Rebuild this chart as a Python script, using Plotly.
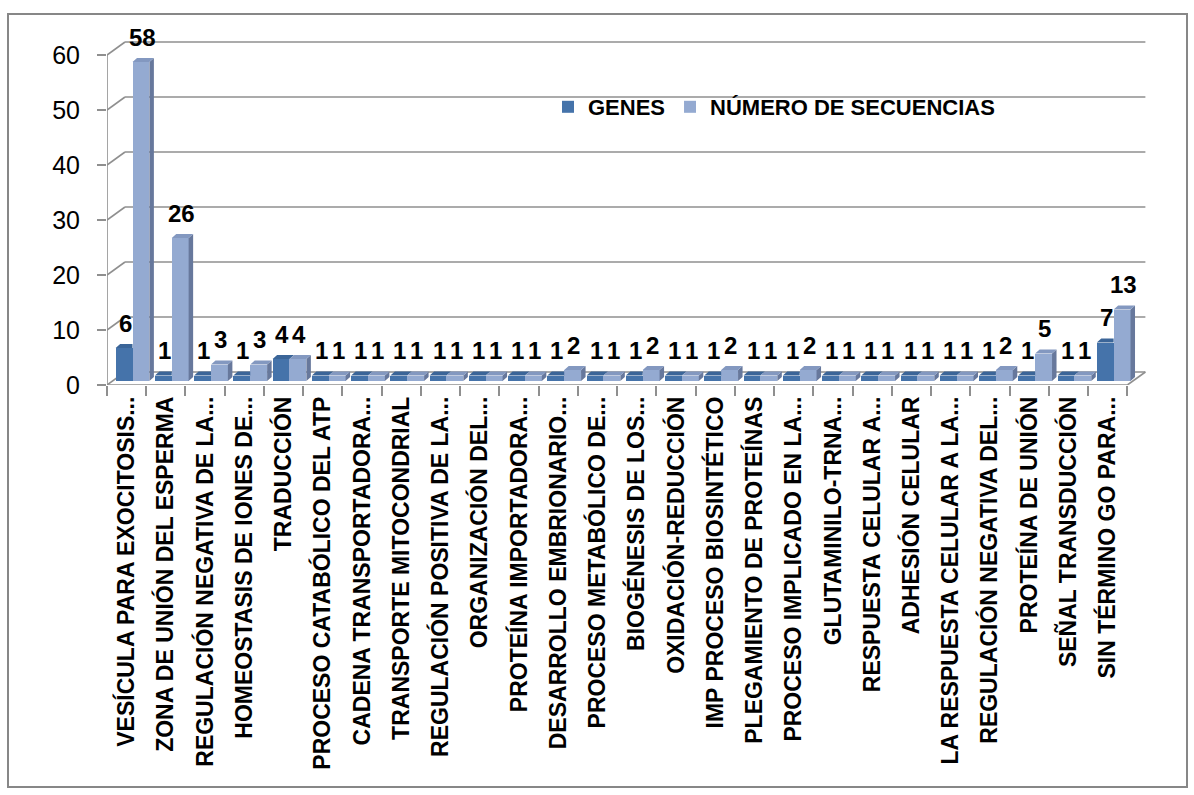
import plotly.graph_objects as go

# ---- data -------------------------------------------------------------
categories = [
    "VESÍCULA PARA EXOCITOSIS...",
    "ZONA DE UNIÓN DEL ESPERMA",
    "REGULACIÓN NEGATIVA DE LA...",
    "HOMEOSTASIS DE IONES DE...",
    "TRADUCCIÓN",
    "PROCESO CATABÓLICO DEL ATP",
    "CADENA TRANSPORTADORA...",
    "TRANSPORTE MITOCONDRIAL",
    "REGULACIÓN POSITIVA DE LA...",
    "ORGANIZACIÓN DEL...",
    "PROTEÍNA IMPORTADORA...",
    "DESARROLLO EMBRIONARIO...",
    "PROCESO METABÓLICO DE...",
    "BIOGÉNESIS DE LOS...",
    "OXIDACIÓN-REDUCCIÓN",
    "IMP PROCESO BIOSINTÉTICO",
    "PLEGAMIENTO DE PROTEÍNAS",
    "PROCESO IMPLICADO EN LA...",
    "GLUTAMINILO-TRNA...",
    "RESPUESTA CELULAR A...",
    "ADHESIÓN CELULAR",
    "LA RESPUESTA CELULAR A LA...",
    "REGULACIÓN NEGATIVA DEL...",
    "PROTEÍNA DE UNIÓN",
    "SEÑAL TRANSDUCCIÓN",
    "SIN TÉRMINO GO PARA...",
]
genes = [6, 1, 1, 1, 4, 1, 1, 1, 1, 1, 1, 1, 1, 1, 1, 1, 1, 1, 1, 1, 1, 1, 1, 1, 1, 7]
secuencias = [58, 26, 3, 3, 4, 1, 1, 1, 1, 1, 1, 2, 1, 2, 1, 2, 1, 2, 1, 1, 1, 1, 2, 5, 1, 13]
y_ticks = [0, 10, 20, 30, 40, 50, 60]

# ---- geometry of the pseudo-3D box (in axis units) ----------------------
W_PX, H_PX = 1194, 795
L_M, R_M, T_M, B_M = 107, 47, 22, 410
X_MAX, Y_MAX = 26.5, 66
px_x = (W_PX - L_M - R_M) / X_MAX          # pixels per category
px_y = (H_PX - T_M - B_M) / Y_MAX          # pixels per unit of value

WALL_DX, WALL_DY = 18 / px_x, 13 / px_y    # offset of the back wall
BAR_BASE = 4 / px_y                        # bars stand slightly behind the front edge
BAR_W = 0.43
DARK_LEFT = 0.22
FACE_DX, FACE_DY = 4.5 / px_x, 4 / px_y    # depth of each bar

GRID = "#8F8F8F"
DARK = dict(front="#4573AA", top="#3B6598", side="#2F507A")
LIGHT = dict(front="#94AAD1", top="#8398C0", side="#67789C")
FONT = "Liberation Sans, Arial, sans-serif"

n = len(categories)
idx = list(range(n))
dark_left = [i + DARK_LEFT for i in idx]
light_left = [i + DARK_LEFT + BAR_W for i in idx]

fig = go.Figure()

# front faces of the bars
fig.add_trace(go.Bar(
    x=[x + BAR_W / 2 for x in dark_left], y=genes, base=BAR_BASE, width=BAR_W,
    name="GENES", marker=dict(color=DARK["front"], line=dict(width=0)),
    customdata=categories, hovertemplate="%{customdata}<br>GENES: %{y}<extra></extra>",
))
fig.add_trace(go.Bar(
    x=[x + BAR_W / 2 for x in light_left], y=secuencias, base=BAR_BASE, width=BAR_W,
    name="NÚMERO DE SECUENCIAS", marker=dict(color=LIGHT["front"], line=dict(width=0)),
    customdata=categories,
    hovertemplate="%{customdata}<br>NÚMERO DE SECUENCIAS: %{y}<extra></extra>",
))


def poly_trace(xs, ys, color):
    return go.Scatter(x=xs, y=ys, mode="lines", fill="toself", fillcolor=color,
                      line=dict(width=0, color=color), hoverinfo="skip",
                      showlegend=False)


# top / side faces of the dark bars (clipped where the light bar hides them)
dtop_x, dtop_y, dside_x, dside_y = [], [], [], []
for i in idx:
    x0, x1 = dark_left[i], dark_left[i] + BAR_W
    t = BAR_BASE + genes[i]
    lt = BAR_BASE + secuencias[i]
    if genes[i] < secuencias[i]:
        dtop_x += [x0, x1, x1, x0 + FACE_DX, x0, None]
        dtop_y += [t, t, t + FACE_DY, t + FACE_DY, t, None]
    else:
        dtop_x += [x0, x1, x1 + FACE_DX, x0 + FACE_DX, x0, None]
        dtop_y += [t, t, t + FACE_DY, t + FACE_DY, t, None]
    if genes[i] > secuencias[i]:
        lo = max(BAR_BASE, lt)
        dside_x += [x1, x1, x1 + FACE_DX, x1 + FACE_DX, x1, None]
        dside_y += [lo, t, t + FACE_DY, max(BAR_BASE + FACE_DY, lt), lo, None]
if dside_x:
    fig.add_trace(poly_trace(dside_x, dside_y, DARK["side"]))
fig.add_trace(poly_trace(dtop_x, dtop_y, DARK["top"]))

# top / side faces of the light bars
ltop_x, ltop_y, lside_x, lside_y = [], [], [], []
for i in idx:
    x0, x1 = light_left[i], light_left[i] + BAR_W
    t = BAR_BASE + secuencias[i]
    ltop_x += [x0, x1, x1 + FACE_DX, x0 + FACE_DX, x0, None]
    ltop_y += [t, t, t + FACE_DY, t + FACE_DY, t, None]
    lside_x += [x1, x1, x1 + FACE_DX, x1 + FACE_DX, x1, None]
    lside_y += [BAR_BASE, t, t + FACE_DY, BAR_BASE + FACE_DY, BAR_BASE, None]
fig.add_trace(poly_trace(lside_x, lside_y, LIGHT["side"]))
fig.add_trace(poly_trace(ltop_x, ltop_y, LIGHT["top"]))

# ---- walls, floor and axis lines -----------------------------------------
shapes = []
line = dict(color=GRID, width=1.6)
for v in y_ticks:
    shapes.append(dict(type="line", xref="x", yref="y", layer="below", line=line,
                       x0=WALL_DX, x1=n + WALL_DX, y0=v + WALL_DY, y1=v + WALL_DY))
    shapes.append(dict(type="line", xref="x", yref="y", layer="below", line=line,
                       x0=0, x1=WALL_DX, y0=v, y1=v + WALL_DY))
shapes.append(dict(type="line", xref="x", yref="y", layer="below", line=line,
                   x0=0, x1=0, y0=0, y1=y_ticks[-1]))
shapes.append(dict(type="line", xref="x", yref="y", layer="below", line=line,
                   x0=0, x1=n, y0=0, y1=0))
shapes.append(dict(type="line", xref="x", yref="y", layer="below", line=line,
                   x0=n, x1=n + WALL_DX, y0=0, y1=WALL_DY))

# outer frame of the chart
pw, ph = W_PX - L_M - R_M, H_PX - T_M - B_M
shapes.append(dict(type="rect", xref="paper", yref="paper", layer="below",
                   x0=(8 - L_M) / pw, x1=(1187 - L_M) / pw,
                   y0=(H_PX - B_M - 787) / ph, y1=(H_PX - B_M - 14) / ph,
                   line=dict(color="#878787", width=2)))

# ---- value labels ----------------------------------------------------------
annotations = []
for series, lefts in ((genes, dark_left), (secuencias, light_left)):
    for i in idx:
        annotations.append(dict(
            x=lefts[i] + BAR_W / 2 + 0.03, y=BAR_BASE + series[i], xref="x", yref="y",
            text=str(series[i]), showarrow=False, yshift=25, yanchor="middle",
            font=dict(family=FONT, size=24, color="black", weight="bold"),
        ))

fig.update_layout(
    width=W_PX, height=H_PX,
    margin=dict(l=L_M, r=R_M, t=T_M, b=B_M, pad=0),
    paper_bgcolor="white", plot_bgcolor="white",
    barmode="overlay", bargap=0,
    shapes=shapes, annotations=annotations,
    font=dict(family=FONT, color="black"),
    legend=dict(orientation="h", x=(548 - L_M) / pw, y=(H_PX - B_M - 107) / ph,
                xanchor="left", yanchor="middle", bgcolor="rgba(0,0,0,0)",
                font=dict(family=FONT, size=22, color="black", weight="bold"),
                itemwidth=30, traceorder="normal"),
    xaxis=dict(
        range=[0, X_MAX], showgrid=False, zeroline=False, showline=False,
        tickmode="array", tickvals=[i + 0.5 for i in idx], ticktext=categories,
        tickangle=-90, ticks="", ticklabelstandoff=6,
        tickfont=dict(family=FONT, size=23, color="black", weight="bold"),
        minor=dict(tickmode="array", tickvals=list(range(n + 1)), ticks="outside",
                   ticklen=10, tickwidth=1.6, tickcolor=GRID, showgrid=False),
        fixedrange=True,
    ),
    yaxis=dict(
        range=[0, Y_MAX], showgrid=False, zeroline=False, showline=False,
        tickmode="array", tickvals=y_ticks, ticks="outside", ticklen=9,
        tickwidth=1.6, tickcolor=GRID, ticklabelstandoff=12,
        tickfont=dict(family=FONT, size=25, color="black"),
        fixedrange=True,
    ),
)

fig.write_html("out.html")
